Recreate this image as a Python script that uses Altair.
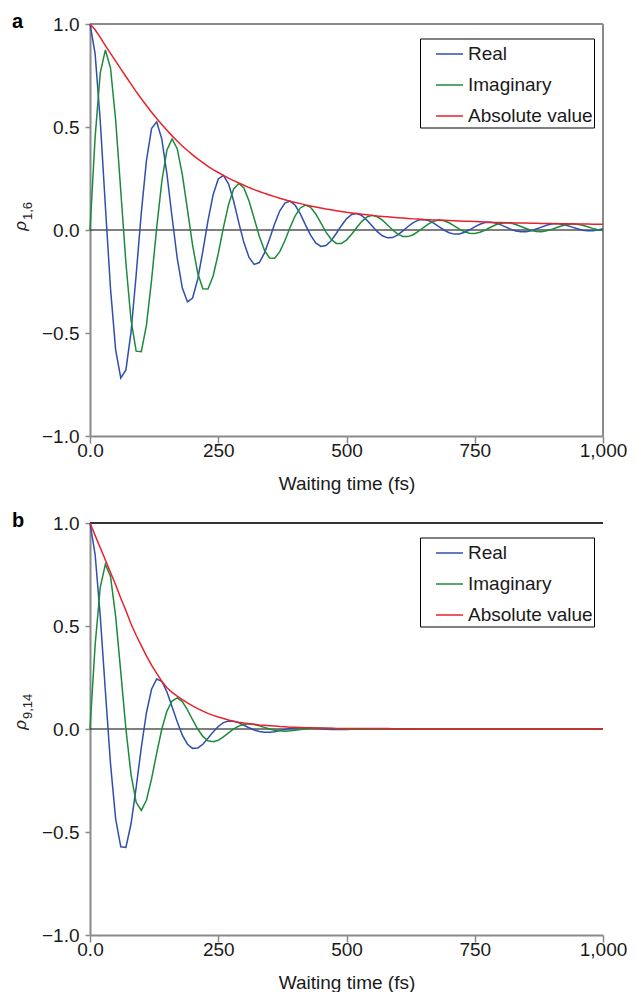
import altair as alt
import pandas as pd

# ---------------- data ----------------
TIME = list(range(0, 1001, 10))

REAL_A = [1.000, 0.855, 0.529, 0.114, -0.285, -0.582, -0.718, -0.679, -0.496, -0.217,
          0.083, 0.337, 0.492, 0.525, 0.441, 0.271, 0.062, -0.136, -0.282, -0.349,
          -0.330, -0.239, -0.102, 0.046, 0.171, 0.248, 0.265, 0.224, 0.141, 0.036,
          -0.061, -0.133, -0.167, -0.158, -0.112, -0.044, 0.030, 0.093, 0.131, 0.140,
          0.120, 0.078, 0.025, -0.025, -0.063, -0.080, -0.075, -0.052, -0.017, 0.021,
          0.054, 0.075, 0.080, 0.070, 0.047, 0.019, -0.008, -0.028, -0.038, -0.037,
          -0.024, -0.004, 0.017, 0.036, 0.048, 0.051, 0.046, 0.033, 0.016, 0.000,
          -0.013, -0.020, -0.019, -0.011, 0.001, 0.015, 0.028, 0.036, 0.038, 0.034,
          0.026, 0.015, 0.004, -0.005, -0.009, -0.009, -0.004, 0.005, 0.014, 0.023,
          0.029, 0.031, 0.028, 0.022, 0.014, 0.006, -0.001, -0.004, -0.004, 0.000,
          0.006]

IMAG_A = [0.000, 0.451, 0.763, 0.874, 0.786, 0.534, 0.189, -0.160, -0.438, -0.588,
          -0.591, -0.463, -0.243, 0.010, 0.236, 0.389, 0.442, 0.395, 0.269, 0.098,
          -0.074, -0.210, -0.285, -0.286, -0.223, -0.115, 0.010, 0.123, 0.199, 0.226,
          0.204, 0.141, 0.056, -0.030, -0.098, -0.136, -0.137, -0.105, -0.051, 0.012,
          0.069, 0.107, 0.121, 0.110, 0.078, 0.035, -0.010, -0.045, -0.065, -0.065,
          -0.049, -0.021, 0.012, 0.042, 0.063, 0.071, 0.064, 0.048, 0.024, 0.000,
          -0.020, -0.031, -0.032, -0.023, -0.007, 0.012, 0.030, 0.042, 0.048, 0.045,
          0.035, 0.020, 0.004, -0.009, -0.016, -0.017, -0.011, -0.001, 0.012, 0.024,
          0.032, 0.035, 0.034, 0.027, 0.017, 0.007, -0.002, -0.007, -0.008, -0.004,
          0.003, 0.012, 0.021, 0.027, 0.030, 0.028, 0.023, 0.016, 0.008, 0.001,
          -0.003]

ABS_A = [1.000, 0.972, 0.935, 0.895, 0.857, 0.820, 0.782, 0.745, 0.708, 0.672,
         0.637, 0.604, 0.572, 0.541, 0.512, 0.484, 0.457, 0.432, 0.408, 0.386,
         0.365, 0.345, 0.327, 0.309, 0.293, 0.279, 0.265, 0.252, 0.240, 0.228,
         0.217, 0.206, 0.196, 0.187, 0.178, 0.170, 0.162, 0.154, 0.147, 0.140,
         0.134, 0.128, 0.122, 0.117, 0.112, 0.107, 0.102, 0.098, 0.094, 0.090,
         0.086, 0.083, 0.080, 0.077, 0.074, 0.071, 0.068, 0.066, 0.064, 0.062,
         0.060, 0.058, 0.056, 0.054, 0.053, 0.051, 0.050, 0.049, 0.048, 0.047,
         0.046, 0.045, 0.044, 0.043, 0.042, 0.041, 0.040, 0.039, 0.038, 0.037,
         0.036, 0.0355, 0.035, 0.0345, 0.034, 0.0335, 0.033, 0.0325, 0.032, 0.0315,
         0.031, 0.0307, 0.0304, 0.030, 0.0297, 0.0294, 0.0291, 0.0288, 0.0285, 0.0283,
         0.028]

REAL_B = [1.000, 0.847, 0.548, 0.183, -0.169, -0.436, -0.572, -0.575, -0.460, -0.283,
          -0.090, 0.079, 0.193, 0.243, 0.232, 0.180, 0.108, 0.035, -0.030, -0.074,
          -0.094, -0.092, -0.074, -0.045, -0.014, 0.012, 0.031, 0.039, 0.038, 0.030,
          0.018, 0.006, -0.005, -0.012, -0.016, -0.016, -0.013, -0.007, -0.002, 0.002,
          0.005, 0.006, 0.006, 0.005, 0.003, 0.001, -0.001, -0.002, -0.003, -0.003,
          -0.002, -0.001, 0.000, 0.000, 0.001, 0.001, 0.001, 0.001, 0.000, 0.000,
          -0.001, -0.001, -0.001, -0.001, 0.000, 0.000, 0.000, 0.000, 0.000, 0.000,
          0.000, 0.000, 0.000, 0.000, 0.000, 0.000, 0.000, 0.000, 0.000, 0.000,
          0.000, 0.000, 0.000, 0.000, 0.000, 0.000, 0.000, 0.000, 0.000, 0.000,
          0.000, 0.000, 0.000, 0.000, 0.000, 0.000, 0.000, 0.000, 0.000, 0.000,
          0.000]

IMAG_B = [0.000, 0.408, 0.688, 0.800, 0.741, 0.547, 0.276, 0.000, -0.221, -0.356,
          -0.395, -0.346, -0.242, -0.117, 0.000, 0.087, 0.136, 0.151, 0.133, 0.093,
          0.045, 0.000, -0.036, -0.057, -0.062, -0.055, -0.038, -0.019, 0.000, 0.014,
          0.023, 0.025, 0.022, 0.016, 0.008, 0.000, -0.006, -0.009, -0.011, -0.009,
          -0.006, -0.003, 0.000, 0.002, 0.004, 0.004, 0.004, 0.003, 0.001, 0.000,
          -0.001, -0.001, -0.001, -0.001, 0.000, 0.000, 0.000, 0.000, 0.000, 0.000,
          0.000, 0.000, 0.000, 0.000, 0.000, 0.000, 0.000, 0.000, 0.000, 0.000,
          0.000, 0.000, 0.000, 0.000, 0.000, 0.000, 0.000, 0.000, 0.000, 0.000,
          0.000, 0.000, 0.000, 0.000, 0.000, 0.000, 0.000, 0.000, 0.000, 0.000,
          0.000, 0.000, 0.000, 0.000, 0.000, 0.000, 0.000, 0.000, 0.000, 0.000,
          0.000]

ABS_B = [1.000, 0.940, 0.880, 0.820, 0.760, 0.700, 0.635, 0.575, 0.510, 0.455,
         0.405, 0.355, 0.310, 0.270, 0.232, 0.200, 0.178, 0.160, 0.143, 0.127,
         0.112, 0.099, 0.087, 0.076, 0.066, 0.058, 0.051, 0.044, 0.038, 0.033,
         0.029, 0.026, 0.023, 0.020, 0.018, 0.016, 0.014, 0.012, 0.011, 0.009,
         0.008, 0.007, 0.006, 0.0055, 0.005, 0.0045, 0.004, 0.0035, 0.003, 0.003,
         0.0025, 0.0024, 0.0023, 0.0022, 0.0021, 0.002, 0.002, 0.0019, 0.0019, 0.0018,
         0.0018, 0.0017, 0.0017, 0.0017, 0.0017, 0.0016, 0.0016, 0.0016, 0.0016, 0.0015,
         0.0015, 0.0015, 0.0015, 0.0014, 0.0014, 0.0014, 0.0014, 0.0013, 0.0013, 0.0013,
         0.0013, 0.0013, 0.0012, 0.0012, 0.0012, 0.0012, 0.0012, 0.0011, 0.0011, 0.0011,
         0.0011, 0.0011, 0.0011, 0.0010, 0.0010, 0.0010, 0.0010, 0.0010, 0.0010, 0.0010,
         0.0010]

SERIES = ["Real", "Imaginary", "Absolute value"]
COLORS = ["#2f4fae", "#1c8a3c", "#e8212b"]
X_TICKS = [0, 250, 500, 750, 1000]
Y_TICKS = [-1.0, -0.5, 0.0, 0.5, 1.0]

FONT = "Liberation Sans"
GRAY = "#8a8a8a"
W, H = 513, 412


def long_df(real, imag, absval):
    rows = []
    for name, vals in zip(SERIES, [real, imag, absval]):
        for t, v in zip(TIME, vals):
            rows.append({"t": t, "v": v, "series": name})
    return pd.DataFrame(rows)


def panel(real, imag, absval, letter, sub, top_color, right_border):
    df = long_df(real, imag, absval)
    xs = alt.Scale(domain=[0, 1000], nice=False)
    ys = alt.Scale(domain=[-1, 1], nice=False)
    x = alt.X("t:Q", scale=xs, axis=alt.Axis(
        values=X_TICKS, grid=False, title="Waiting time (fs)",
        labelExpr="datum.value == 0 ? '0.0' : format(datum.value, ',')",
        labelFlush=False,
        tickSize=7, labelPadding=-2, titlePadding=14))
    y = alt.Y("v:Q", scale=ys, axis=alt.Axis(
        values=Y_TICKS, grid=False, title=None, format=".1f",
        tickSize=5, labelPadding=6))
    color = alt.Color("series:N", scale=alt.Scale(domain=SERIES, range=COLORS),
                      legend=alt.Legend(
                          orient="none", legendX=330, legendY=14.5, title=None,
                          symbolType="stroke", symbolSize=729, symbolStrokeWidth=1.5,
                          labelFont=FONT, labelFontSize=19, labelColor="#1a1a1a",
                          strokeColor="black", fillColor="white", padding=1,
                          rowPadding=6, symbolOffset=14, labelOffset=4))

    base = alt.Chart(df)
    lines = [base.transform_filter(alt.datum.series == s)
             .mark_line(strokeWidth=1.5).encode(x=x, y=y, color=color)
             for s in SERIES]

    zero = alt.Chart().mark_rule(color="black", strokeWidth=1.2).encode(y=alt.datum(0))
    top = alt.Chart().mark_rule(color=top_color, strokeWidth=2).encode(y=alt.datum(1))
    layers = [zero, top]
    if right_border:
        layers.append(alt.Chart().mark_rule(color=GRAY, strokeWidth=2).encode(x=alt.datum(1000)))

    lab = alt.Chart().mark_text(text=letter, font=FONT, fontSize=20, fontWeight="bold",
                                align="left", baseline="alphabetic", color="black").encode(
        x=alt.value(-78), y=alt.value(4))
    rho = alt.Chart().mark_text(text="ρ", font=FONT, fontSize=17, fontStyle="italic",
                                angle=270, align="right", baseline="alphabetic",
                                color="#222").encode(x=alt.value(-64), y=alt.value(197))
    subs = alt.Chart().mark_text(text=sub, font=FONT, fontSize=13, angle=270,
                                 align="left", baseline="alphabetic",
                                 color="#222").encode(x=alt.value(-58), y=alt.value(196))

    return alt.layer(*layers, *lines, lab, rho, subs).properties(width=W, height=H)


pa = panel(REAL_A, IMAG_A, ABS_A, "a", "1,6", GRAY, True)
pb = panel(REAL_B, IMAG_B, ABS_B, "b", "9,14", "#333333", False)

chart = alt.vconcat(pa, pb, spacing=18).resolve_scale(color="independent").properties(
    padding={"top": 4, "left": 4, "right": 0, "bottom": 0}
).configure_view(stroke=None).configure_axis(
    domainColor=GRAY, domainWidth=2, tickColor=GRAY, tickWidth=1.5,
    labelFont=FONT, labelFontSize=19, labelColor="#1a1a1a",
    titleFont=FONT, titleFontSize=19, titleColor="#1a1a1a", titleFontWeight="normal"
)

chart.save("out.html", embed_options={"renderer": "svg", "actions": False})
